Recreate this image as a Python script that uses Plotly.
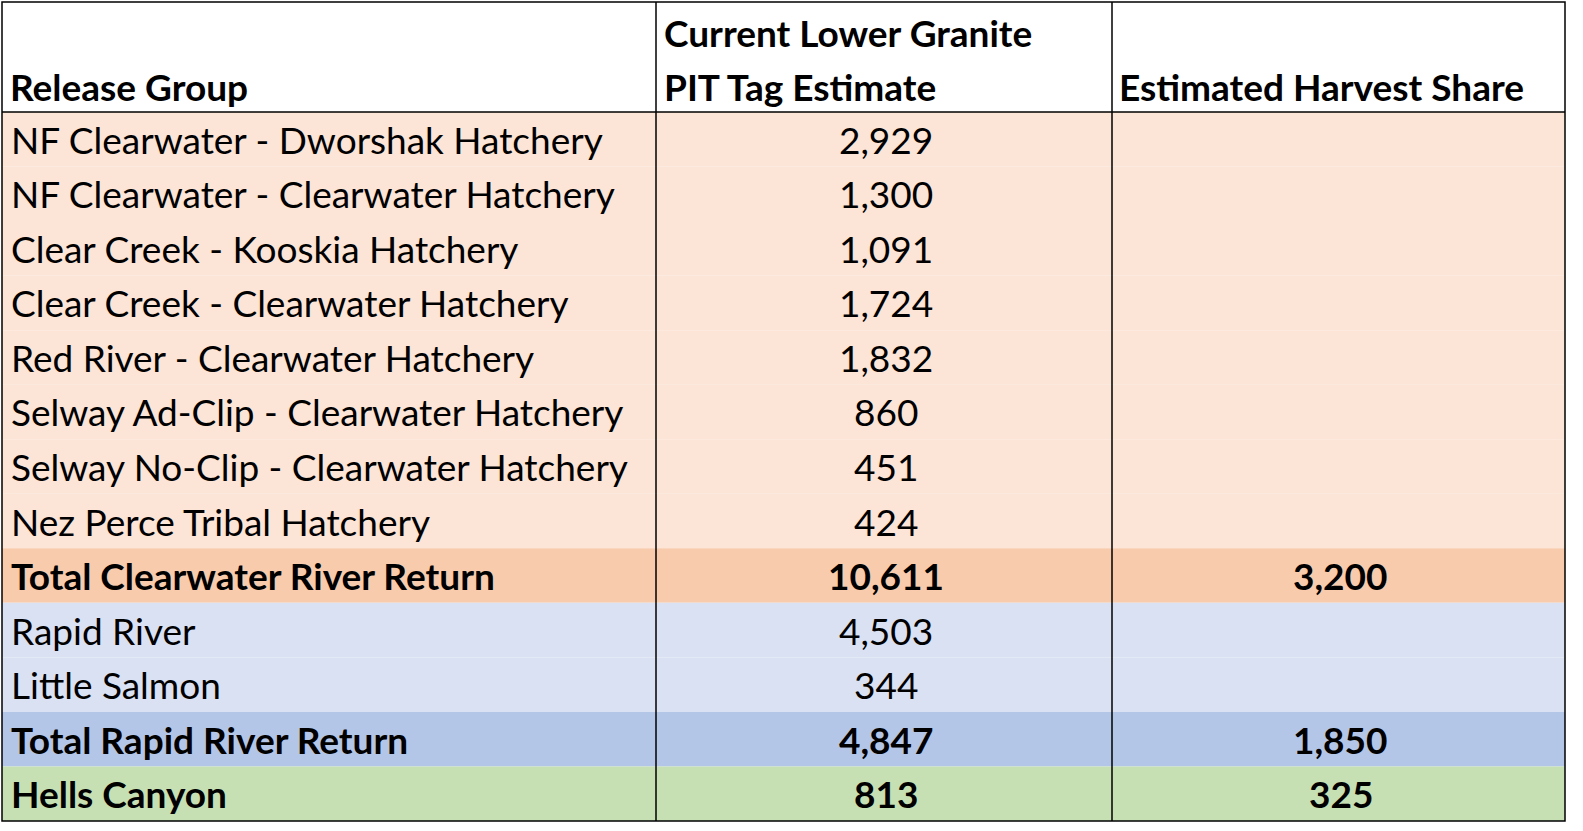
import plotly.graph_objects as go

release_groups = ["NF Clearwater - Dworshak Hatchery", "NF Clearwater - Clearwater Hatchery",
                  "Clear Creek - Kooskia Hatchery", "Clear Creek - Clearwater Hatchery",
                  "Red River - Clearwater Hatchery", "Selway Ad-Clip - Clearwater Hatchery",
                  "Selway No-Clip - Clearwater Hatchery", "Nez Perce Tribal Hatchery",
                  "Total Clearwater River Return", "Rapid River", "Little Salmon",
                  "Total Rapid River Return", "Hells Canyon"]
pit_estimates = ["2,929", "1,300", "1,091", "1,724", "1,832", "860", "451", "424",
                 "10,611", "4,503", "344", "4,847", "813"]
harvest_share = ["", "", "", "", "", "", "", "", "3,200", "", "", "1,850", "325"]
row_kind = ["c", "c", "c", "c", "c", "c", "c", "c", "ct", "r", "r", "rt", "h"]
headers = ["Release Group", "Current Lower Granite", "PIT Tag Estimate", "Estimated Harvest Share"]

colors = {"c": "#FCE4D6", "ct": "#F8CBAD", "r": "#D9E1F2", "rt": "#B4C6E7", "h": "#C6E0B4"}
W, H = 1583, 831
x0, x1, x2, x3 = 2, 656, 1112, 1565
ytop, yhead, ybot = 2, 112, 821
rh = (ybot - yhead) / len(release_groups)
font = "Lato"
fs = 37
fsb = 37

fig = go.Figure()
shapes, ann = [], []
for i, (g, p, h, k) in enumerate(zip(release_groups, pit_estimates, harvest_share, row_kind)):
    ya = yhead + i * rh
    yb = ya + rh
    shapes.append(dict(type="rect", x0=x0, x1=x3, y0=ya, y1=yb, fillcolor=colors[k], line_width=0, layer="below"))
    bold = k in ("ct", "rt", "h")
    wrap = (lambda s: f"<b>{s}</b>") if bold else (lambda s: s)
    f = dict(family=font, size=fsb if bold else fs, color="black")
    ym = (ya + yb) / 2
    ann.append(dict(x=x0 + 7, y=ym, text=wrap(g), xanchor="left", yanchor="middle", showarrow=False, font=f))
    ann.append(dict(x=(x1 + x2) / 2 + 2, y=ym, text=wrap(p), xanchor="center", yanchor="middle", showarrow=False, font=f))
    if h:
        ann.append(dict(x=(x2 + x3) / 2 + 2, y=ym, text=wrap(h), xanchor="center", yanchor="middle", showarrow=False, font=f))

hf = dict(family=font, size=fsb, color="black")
ann.append(dict(x=x0 + 6, y=86, text=f"<b>{headers[0]}</b>", xanchor="left", yanchor="middle", showarrow=False, font=hf))
ann.append(dict(x=x1 + 6, y=32, text=f"<b>{headers[1]}</b>", xanchor="left", yanchor="middle", showarrow=False, font=hf))
ann.append(dict(x=x1 + 6, y=86, text=f"<b>{headers[2]}</b>", xanchor="left", yanchor="middle", showarrow=False, font=hf))
ann.append(dict(x=x2 + 5, y=86, text=f"<b>{headers[3]}</b>", xanchor="left", yanchor="middle", showarrow=False, font=hf))

lc = dict(color="black", width=1.5)
shapes += [
    dict(type="rect", x0=x0, x1=x3, y0=ytop, y1=ybot, line=lc),
    dict(type="line", x0=x1, x1=x1, y0=ytop, y1=ybot, line=lc),
    dict(type="line", x0=x2, x1=x2, y0=ytop, y1=ybot, line=lc),
    dict(type="line", x0=x0, x1=x3, y0=yhead, y1=yhead, line=lc),
]

fig.update_layout(width=W, height=H, margin=dict(l=0, r=0, t=0, b=0),
                  paper_bgcolor="white", plot_bgcolor="white",
                  xaxis=dict(range=[0, W], visible=False, fixedrange=True),
                  yaxis=dict(range=[H, 0], visible=False, fixedrange=True),
                  shapes=shapes, annotations=ann,
                  font=dict(family=font, size=fs, color="black"), showlegend=False)
fig.write_html("out.html", config={"displayModeBar": False},
               post_script="document.body.style.margin='0';document.body.style.padding='0';")
